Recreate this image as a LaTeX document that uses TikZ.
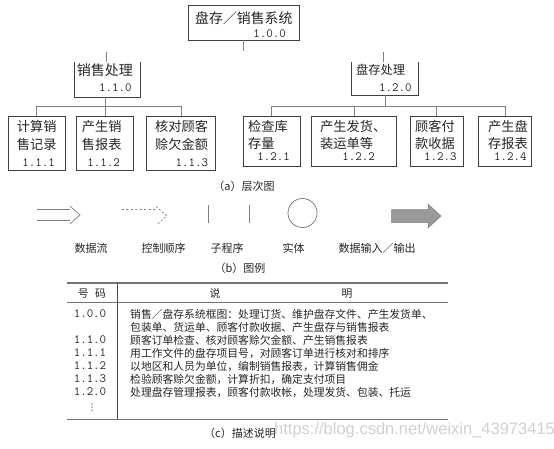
\documentclass[tikz,border=0pt]{standalone}
\usepackage{fontspec}
\newfontfamily\cjk{Noto Sans CJK SC}
\newfontfamily\wmfont{Liberation Sans}
\newfontfamily\symfont{DejaVu Sans}
\begin{document}
\begin{tikzpicture}[x=1pt,y=-1pt,
  boxline/.style={draw=black!75, line width=0.9pt},
  frame/.style={rectangle, inner sep=0pt},
  conn/.style={draw=black!50, line width=0.7pt},
  legline/.style={draw=black!50, line width=0.7pt},
  cn/.style={inner sep=0pt, text=black!85, font=\cjk\fontsize{#1}{#1}\selectfont},
  cn/.default=11,
  num/.style={inner sep=0pt, text=black!85, font=\ttfamily\fontsize{12.6}{12.6}\selectfont},
  rule/.style={draw=black!55, line width=#1},
  rule/.default=0.7pt]
\useasboundingbox (0,0) rectangle (554,448);
\fill[white] (0,0) rectangle (554,448);

% ---------- root ----------
\node[frame, boxline, minimum width=111pt, minimum height=35pt] (root) at (243.5,22.5) {};
\node[cn=13.9, anchor=west] (roott) at (195,18.3) {盘存／销售系统};
\node[num, anchor=east] (rootn) at (286,33.3) {1.0.0};

% ---------- level 2 ----------
\node[frame, minimum width=65pt, minimum height=35pt] (sale) at (107.5,79.5) {};
\draw[boxline] (sale.north west) -- (sale.south west) -- (sale.south east) -- (sale.north east);
\node[cn=14, anchor=west] (salet) at (76.7,70) {销售处理};
\node[num, anchor=east] (salen) at (131.7,87.3) {1.1.0};

\node[frame, minimum width=66.6pt, minimum height=33pt] (inv) at (385,78.5) {};
\draw[boxline] (inv.north west) -- (inv.south west) -- (inv.south east) -- (inv.north east);
\node[cn=12.2, anchor=west] (invt) at (356,70) {盘存处理};
\node[num, anchor=east] (invn) at (411.7,87.3) {1.2.0};

% stubs
\draw[conn] (root.south) -- ++(0,11) coordinate (rootend);
\coordinate (saletop) at (106,52.3);
\coordinate (invtop) at (383,52.3);
\draw[conn] (saletop) -- (saletop |- sale.north);
\draw[conn] (invtop) -- (invtop |- inv.north);

% ---------- level 3 ----------
\node[frame, boxline, minimum width=56.7pt, minimum height=53.3pt] (L1) at (36.65,143.35) {};
\node[frame, boxline, minimum width=56.6pt, minimum height=53.3pt] (L2) at (105,143.35) {};
\node[frame, boxline, minimum width=68.3pt, minimum height=53.3pt] (L3) at (180.85,143.35) {};
\node[frame, boxline, minimum width=56.7pt, minimum height=50pt] (R1) at (271.65,141.7) {};
\node[frame, boxline, minimum width=85pt, minimum height=50pt] (R2) at (354.2,141.7) {};
\node[frame, boxline, minimum width=53.3pt, minimum height=50pt] (R3) at (436.65,141.7) {};
\node[frame, boxline, minimum width=53.7pt, minimum height=50pt] (R4) at (504.85,141.7) {};

\node[cn=13.2, anchor=west] (L1a) at (16.7,126.7) {计算销};
\node[cn=13.2, anchor=west] (L1b) at (16.7,144.3) {售记录};
\node[num, anchor=east] (L1n) at (55,162.7) {1.1.1};
\node[cn=13.2, anchor=west] (L2a) at (81.7,126.7) {产生销};
\node[cn=13.2, anchor=west] (L2b) at (81.7,144.3) {售报表};
\node[num, anchor=east] (L2n) at (120,162.7) {1.1.2};
\node[cn=13.2, anchor=west] (L3a) at (155,126.7) {核对顾客};
\node[cn=13.2, anchor=west] (L3b) at (155,144.3) {赊欠金额};
\node[num, anchor=east] (L3n) at (208.3,162.7) {1.1.3};

\node[cn=13.2, anchor=west] (R1a) at (248,126.7) {检查库};
\node[cn=13.2, anchor=west] (R1b) at (248,143) {存量};
\node[num, anchor=east] (R1n) at (290,156.5) {1.2.1};
\node[cn=13.2, anchor=west] (R2a) at (320,126.7) {产生发货、};
\node[cn=13.2, anchor=west] (R2b) at (320,143) {装运单等};
\node[num, anchor=east] (R2n) at (375,156.5) {1.2.2};
\node[cn=13.2, anchor=west] (R3a) at (415,126.7) {顾客付};
\node[cn=13.2, anchor=west] (R3b) at (415,143) {款收据};
\node[num, anchor=east] (R3n) at (456.7,156.5) {1.2.3};
\node[cn=13.2, anchor=west] (R4a) at (488,126.7) {产生盘};
\node[cn=13.2, anchor=west] (R4b) at (488,143) {存报表};
\node[num, anchor=east] (R4n) at (526.7,156.5) {1.2.4};

% connectors level 2 -> 3
\coordinate (barL) at (0,106.7);
\coordinate (barR) at (0,106.7);
\draw[conn] (L1.north) |- (barL -| L3.north) -- (L3.north);
\draw[conn] (L2.north) -- (L2.north |- sale.south);
\draw[conn] (R1.north) |- (barR -| R4.north) -- (R4.north);
\draw[conn] (R2.north) -- (R2.north |- barR);
\draw[conn] (R3.north) -- (R3.north |- barR);
\draw[conn] (inv.south) -- (inv.south |- barR);

\node[cn=11] (capa) at (244,186) {（a）层次图};

% ---------- legend ----------
\draw[legline] (36.7,209) -- (70,209) (36.7,220) -- (70,220);
\draw[legline] (70,206) -- (80,215) -- (70,224);
\draw[legline, dash pattern=on 2pt off 2.5pt] (121.7,209) -- (157,209);
\draw[legline, dash pattern=on 2pt off 2pt] (156,206.5) -- (166.7,215.7) -- (156.7,225);
\draw[legline] (208,205) -- (208,223) (249.3,205) -- (249.3,223);
\node[circle, draw=black!55, line width=0.7pt, minimum size=29pt, inner sep=0pt] (ent) at (302.5,213) {};
\filldraw[fill=black!40, draw=black!50, line width=0.5pt] (391.7,209.5) -- (428,209.5) -- (428,204) -- (441,216) -- (428,228) -- (428,222.5) -- (391.7,222.5) -- cycle;

\node[cn=11] (lab1) at (91,248) {数据流};
\node[cn=11] (lab2) at (163.5,248) {控制顺序};
\node[cn=11] (lab3) at (227,248) {子程序};
\node[cn=11] (lab4) at (293.5,248) {实体};
\node[cn=11] (lab5) at (377,248) {数据输入／输出};
\node[cn=11] (capb) at (240,268) {（b）图例};

% ---------- table ----------
\draw[rule=1.2pt] (66.7,283) -- (448,283);
\draw[rule=0.7pt] (66.7,302) -- (448,302);
\draw[draw=black!70, line width=0.8pt] (117,283) -- (117,419);
\draw[rule=1.2pt] (66.7,419.5) -- (448,419.5);

\node[cn=10.8] (h1) at (92,293.5) {号\hspace{0.6em}码};
\node[cn=10.8] (h2) at (215,293.5) {说};
\node[cn=10.8] (h3) at (347,293.5) {明};

\node[num] (n1) at (90,314) {1.0.0};
\node[num] (n2) at (90,340) {1.1.0};
\node[num] (n3) at (90,353) {1.1.1};
\node[num] (n4) at (90,366) {1.1.2};
\node[num] (n5) at (90,379) {1.1.3};
\node[num] (n6) at (90,392) {1.2.0};
\node[inner sep=0pt, text=black!85, font=\symfont\fontsize{9}{9}\selectfont] (n7) at (92,408) {⋮};

\node[cn=10.8, anchor=west] (d1) at (130,314) {销售／盘存系统框图：处理订货、维护盘存文件、产生发货单、};
\node[cn=10.8, anchor=west] (d1b) at (130,327) {包装单、货运单、顾客付款收据、产生盘存与销售报表};
\node[cn=10.8, anchor=west] (d2) at (130,340) {顾客订单检查、核对顾客赊欠金额、产生销售报表};
\node[cn=10.8, anchor=west] (d3) at (130,353) {用工作文件的盘存项目号，对顾客订单进行核对和排序};
\node[cn=10.8, anchor=west] (d4) at (130,366) {以地区和人员为单位，编制销售报表，计算销售佣金};
\node[cn=10.8, anchor=west] (d5) at (130,379) {检验顾客赊欠金额，计算折扣，确定支付项目};
\node[cn=10.8, anchor=west] (d6) at (130,392) {处理盘存管理报表，顾客付款收帐，处理发货、包装、托运};

\node[cn=11] (capc) at (240,433) {（c）描述说明};

\begin{scope}
\clip (0,0) rectangle (554,448);
\node[anchor=west, inner sep=0pt, text=black!18, font=\wmfont\fontsize{16.5}{16.5}\selectfont] (wm) at (274,430.5) {https://blog.csdn.net/weixin\_43973415};
\end{scope}
\end{tikzpicture}
\end{document}
